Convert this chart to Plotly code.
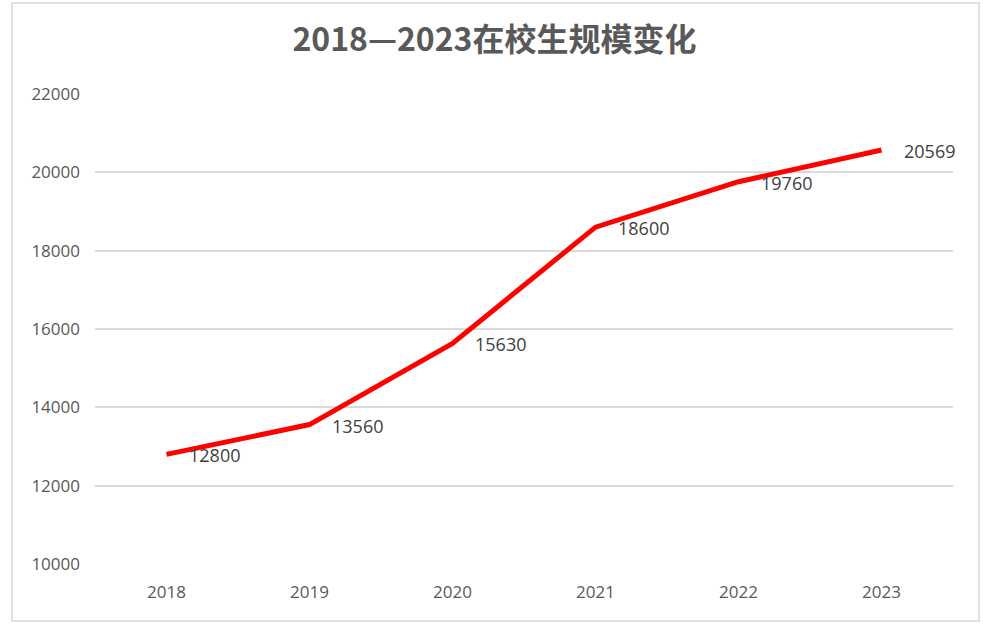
import plotly.graph_objects as go

years = ["2018", "2019", "2020", "2021", "2022", "2023"]
students = [12800, 13560, 15630, 18600, 19760, 20569]
title_text = "2018—2023在校生规模变化"

L, R, T, B = 95, 30, 94, 73
W, H = 983, 637
pw, ph = W - L - R, H - T - B

fig = go.Figure()
fig.add_trace(go.Scatter(
    x=years, y=students, mode="lines",
    line=dict(color="#FF0000", width=5),
    hoverinfo="skip", showlegend=False,
))

for i, v in enumerate(students):
    fig.add_annotation(
        x=i, y=v, xref="x", yref="y", text=str(v), showarrow=False,
        xanchor="left", yanchor="middle", xshift=20, yshift=-1,
        font=dict(family="Open Sans, Liberation Sans, sans-serif", size=18, color="#404040"),
    )

fig.add_shape(
    type="rect", xref="paper", yref="paper",
    x0=(12 - L) / pw, x1=(979 - L) / pw,
    y0=(H - B - 621) / ph, y1=(H - B - 3) / ph,
    line=dict(color="#D9D9D9", width=1.5), fillcolor="rgba(0,0,0,0)", layer="below",
)

fig.update_layout(
    width=W, height=H,
    margin=dict(l=L, r=R, t=T, b=B, pad=0),
    paper_bgcolor="white", plot_bgcolor="white",
    title=dict(
        text="<b>" + title_text + "</b>", x=0.503, xanchor="center",
        y=1 - 40 / H, yanchor="middle",
        font=dict(family="Noto Sans CJK SC, sans-serif", size=32, color="#595959"),
    ),
    xaxis=dict(
        type="category", showgrid=False, zeroline=False, showline=False,
        ticks="", ticklabelstandoff=16,
        tickfont=dict(family="Open Sans, Liberation Sans, sans-serif", size=17, color="#595959"),
        range=[-0.5, 5.5],
    ),
    yaxis=dict(
        range=[10000, 22000], tickvals=[10000, 12000, 14000, 16000, 18000, 20000, 22000],
        tickformat="d", showgrid=True, gridcolor="#D9D9D9", gridwidth=1.5,
        zeroline=False, showline=False, ticks="", ticklabelstandoff=14,
        tickfont=dict(family="Open Sans, Liberation Sans, sans-serif", size=17, color="#595959"),
    ),
)

fig.write_html("out.html", config={"displayModeBar": False},
               post_script="document.body.style.margin='0';document.body.style.overflow='hidden';")
